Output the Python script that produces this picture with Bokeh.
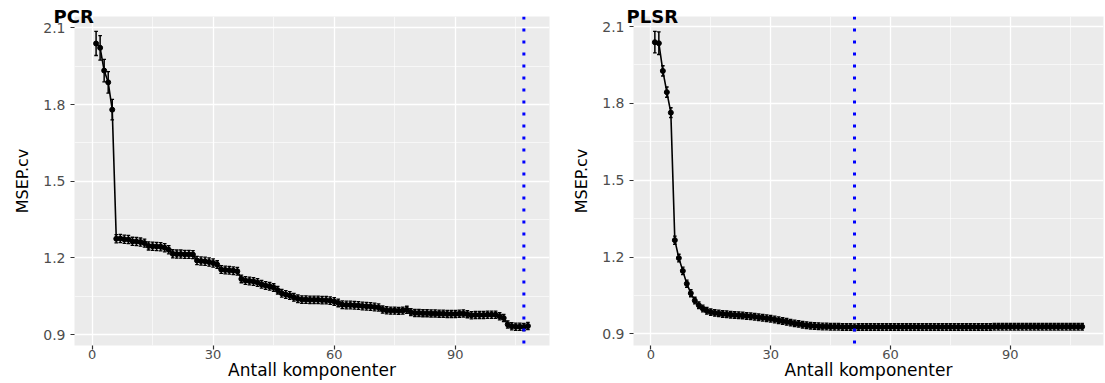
from bokeh.plotting import figure
from bokeh.layouts import row
from bokeh.models import Range1d, FixedTicker, Span, Title, ColumnDataSource
from bokeh.embed import file_html
from bokeh.resources import INLINE

components = list(range(1, 109))

pcr_msep = [2.039, 2.022, 1.933, 1.887, 1.780, 1.275, 1.276, 1.273, 1.272, 1.265,
            1.264, 1.262, 1.258, 1.247, 1.246, 1.245, 1.244, 1.240, 1.232, 1.216,
            1.215, 1.215, 1.214, 1.214, 1.213, 1.190, 1.188, 1.187, 1.184, 1.180,
            1.174, 1.155, 1.153, 1.152, 1.150, 1.148, 1.118, 1.112, 1.110, 1.108,
            1.104, 1.097, 1.092, 1.089, 1.084, 1.074, 1.062, 1.057, 1.053, 1.046,
            1.040, 1.037, 1.037, 1.036, 1.036, 1.036, 1.035, 1.035, 1.033, 1.030,
            1.024, 1.017, 1.016, 1.016, 1.015, 1.014, 1.012, 1.011, 1.010, 1.008,
            1.006, 0.998, 0.995, 0.994, 0.994, 0.993, 0.994, 0.997, 0.988, 0.985,
            0.985, 0.984, 0.984, 0.983, 0.983, 0.982, 0.982, 0.981, 0.981, 0.981,
            0.982, 0.983, 0.980, 0.976, 0.977, 0.977, 0.977, 0.978, 0.978, 0.978,
            0.972, 0.965, 0.940, 0.933, 0.931, 0.931, 0.930, 0.934]

pcr_se = [0.047, 0.048, 0.044, 0.042, 0.040, 0.016, 0.016, 0.016, 0.016, 0.016,
          0.016, 0.016, 0.016, 0.016, 0.016, 0.016, 0.016, 0.016, 0.016, 0.016,
          0.016, 0.016, 0.016, 0.016, 0.016, 0.016, 0.016, 0.016, 0.016, 0.016,
          0.015, 0.015, 0.015, 0.015, 0.015, 0.015, 0.015, 0.015, 0.015, 0.015,
          0.015, 0.015, 0.015, 0.015, 0.015, 0.015, 0.015, 0.015, 0.015, 0.015,
          0.015, 0.015, 0.015, 0.015, 0.015, 0.015, 0.015, 0.015, 0.015, 0.015,
          0.015, 0.015, 0.015, 0.015, 0.015, 0.015, 0.015, 0.015, 0.015, 0.015,
          0.014, 0.014, 0.014, 0.014, 0.014, 0.014, 0.014, 0.014, 0.014, 0.014,
          0.014, 0.014, 0.014, 0.014, 0.014, 0.014, 0.014, 0.014, 0.014, 0.014,
          0.014, 0.014, 0.014, 0.014, 0.014, 0.014, 0.014, 0.014, 0.014, 0.014,
          0.014, 0.014, 0.014, 0.014, 0.014, 0.014, 0.014, 0.014]

plsr_msep = [2.039, 2.035, 1.927, 1.844, 1.764, 1.266, 1.196, 1.146, 1.096, 1.059,
             1.030, 1.012, 0.999, 0.990, 0.985, 0.982, 0.980, 0.978, 0.977, 0.975,
             0.974, 0.973, 0.972, 0.970, 0.969, 0.967, 0.965, 0.963, 0.961, 0.959,
             0.956, 0.953, 0.950, 0.947, 0.944, 0.941, 0.939, 0.936, 0.934, 0.932,
             0.931, 0.930, 0.929, 0.929, 0.928, 0.928, 0.928, 0.927, 0.927, 0.927,
             0.926, 0.927, 0.927, 0.927, 0.927, 0.927, 0.927, 0.927, 0.927, 0.927,
             0.927, 0.927, 0.927, 0.927, 0.927, 0.927, 0.927, 0.927, 0.927, 0.927,
             0.927, 0.927, 0.927, 0.927, 0.927, 0.927, 0.927, 0.927, 0.927, 0.927,
             0.927, 0.927, 0.927, 0.927, 0.927, 0.928, 0.928, 0.928, 0.928, 0.928,
             0.928, 0.928, 0.928, 0.928, 0.928, 0.928, 0.928, 0.928, 0.928, 0.928,
             0.928, 0.928, 0.928, 0.928, 0.928, 0.928, 0.928, 0.928]

plsr_se = [0.042, 0.044, 0.020, 0.020, 0.019, 0.016, 0.015, 0.015, 0.014, 0.014,
           0.013, 0.013, 0.013, 0.013, 0.013, 0.013, 0.013, 0.013, 0.013, 0.013,
           0.013, 0.013, 0.013, 0.013, 0.013, 0.013, 0.013, 0.013, 0.013, 0.013,
           0.013, 0.013, 0.013, 0.013, 0.013, 0.013, 0.013, 0.013, 0.013, 0.013,
           0.013, 0.013, 0.013, 0.013, 0.013, 0.013, 0.013, 0.013, 0.013, 0.013,
           0.013, 0.013, 0.013, 0.013, 0.013, 0.013, 0.013, 0.013, 0.013, 0.013,
           0.013, 0.013, 0.013, 0.013, 0.013, 0.013, 0.013, 0.013, 0.013, 0.013,
           0.013, 0.013, 0.013, 0.013, 0.013, 0.013, 0.013, 0.013, 0.013, 0.013,
           0.013, 0.013, 0.013, 0.013, 0.013, 0.013, 0.013, 0.013, 0.013, 0.013,
           0.013, 0.013, 0.013, 0.013, 0.013, 0.013, 0.013, 0.013, 0.013, 0.013,
           0.013, 0.013, 0.013, 0.013, 0.013, 0.013, 0.013, 0.013]

x_ticks = [0, 30, 60, 90]
x_minor = [15, 45, 75, 105]
y_ticks = [0.9, 1.2, 1.5, 1.8, 2.1]
y_tick_labels = ["0.9", "1.2", "1.5", "1.8", "2.1"]
y_minor = [1.05, 1.35, 1.65, 1.95]

FONT = "DejaVu Sans"


def expand(lo, hi, frac=0.05):
    r = hi - lo
    return lo - frac * r, hi + frac * r


def make_panel(title, msep, se, width, bl, br, title_offset):
    lo_vals = [m - s for m, s in zip(msep, se)]
    hi_vals = [m + s for m, s in zip(msep, se)]
    x0, x1 = expand(min(components), max(components))
    y0, y1 = expand(min(lo_vals), max(hi_vals))
    p = figure(width=width, height=383, output_backend="svg", toolbar_location=None,
               x_range=Range1d(x0, x1), y_range=Range1d(y0, y1),
               min_border_left=bl, min_border_right=br,
               min_border_top=16, min_border_bottom=38)
    p.title = Title(text=title, align="left", offset=title_offset, standoff=-20,
                    text_font=FONT, text_font_size="18px", text_font_style="bold",
                    text_color="black")
    p.background_fill_color = "#EBEBEB"
    p.border_fill_color = "white"
    p.outline_line_color = None
    p.xaxis.ticker = FixedTicker(ticks=x_ticks, minor_ticks=x_minor)
    p.yaxis.ticker = FixedTicker(ticks=y_ticks, minor_ticks=y_minor)
    p.yaxis.major_label_overrides = dict(zip(y_ticks, y_tick_labels))
    p.grid.grid_line_color = "white"
    p.grid.grid_line_width = 1.3
    p.grid.minor_grid_line_color = "white"
    p.grid.minor_grid_line_width = 0.6
    for ax in (p.xaxis, p.yaxis):
        ax.axis_line_color = None
        ax.minor_tick_line_color = None
        ax.major_tick_line_color = "#333333"
        ax.major_tick_line_width = 1.2
        ax.major_tick_out = 4
        ax.major_tick_in = 0
        ax.major_label_text_color = "#4D4D4D"
        ax.major_label_text_font = FONT
        ax.axis_label_text_font = FONT
        ax.axis_label_text_font_style = "normal"
        ax.axis_label_text_color = "black"
    p.xaxis.major_label_text_font_size = "13px"
    p.yaxis.major_label_text_font_size = "14px"
    p.xaxis.axis_label_text_font_size = "17px"
    p.yaxis.axis_label_text_font_size = "16px"
    p.xaxis.axis_label = "Antall komponenter"
    p.yaxis.axis_label = "MSEP.cv"
    p.xaxis.major_label_standoff = 0
    p.xaxis.axis_label_standoff = -2
    p.yaxis.major_label_standoff = 5
    p.yaxis.axis_label_standoff = 8

    src = ColumnDataSource(dict(x=components, y=msep, lo=lo_vals, hi=hi_vals,
                                cl=[c - 0.45 for c in components],
                                cr=[c + 0.45 for c in components]))
    p.line("x", "y", source=src, line_color="black", line_width=1.6)
    p.segment(x0="x", y0="lo", x1="x", y1="hi", source=src, line_color="black", line_width=1.5)
    p.segment(x0="cl", y0="lo", x1="cr", y1="lo", source=src, line_color="black", line_width=1.3)
    p.segment(x0="cl", y0="hi", x1="cr", y1="hi", source=src, line_color="black", line_width=1.3)
    p.scatter("x", "y", source=src, marker="circle", size=5, fill_color="black", line_color="black")

    best = components[msep.index(min(msep))]
    p.add_layout(Span(location=best, dimension="height", line_color="#0000FF",
                      line_width=3, line_dash="3 9"))
    return p


p1 = make_panel("PCR", pcr_msep, pcr_se, 552, 74, 3, -21)
p2 = make_panel("PLSR", plsr_msep, plsr_se, 553, 81, 2, -7)
p = row(p1, p2)

open("out.html", "w").write(file_html(p, INLINE))
